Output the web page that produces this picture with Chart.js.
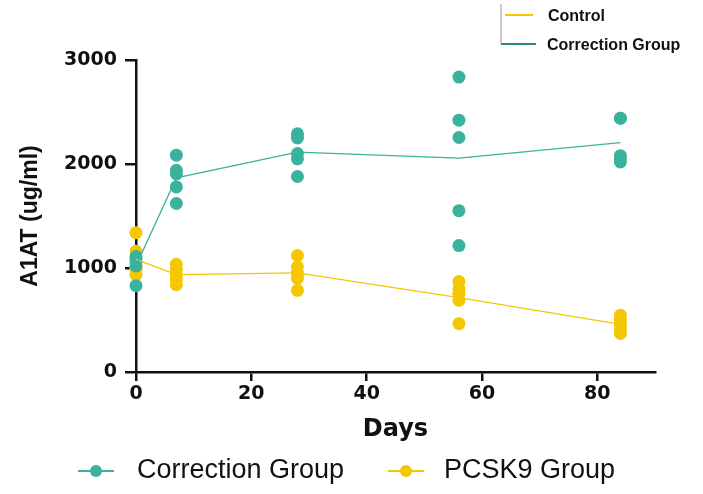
<!DOCTYPE html>
<html>
<head>
<meta charset="utf-8">
<script src="https://cdn.jsdelivr.net/npm/chart.js@4"></script>
<style>
html,body{margin:0;padding:0;background:#fff;}
#wrap{width:703px;height:494px;}
</style>
</head>
<body>
<div id="wrap"><canvas id="chart"></canvas></div>
<script>
// sampling days
const days = [0, 7, 28, 56, 84];

// individual values per day (ug/ml)
const correctionGroup = [
  [1110, 1090, 1060, 1020, 830],
  [2085, 1940, 1905, 1780, 1620],
  [2290, 2250, 2100, 2050, 1880],
  [2836, 2421, 2255, 1551, 1216],
  [2440, 2440, 2080, 2050, 2020]
];
const pcsk9Group = [
  [1340, 1160, 1000, 980, 935],
  [1035, 985, 935, 890, 840],
  [1120, 1010, 950, 900, 785],
  [870, 800, 750, 690, 465],
  [545, 505, 460, 410, 370]
];

const xTicks = [0, 20, 40, 60, 80];
const yTicks = [0, 1000, 2000, 3000];

const teal = '#3ab29d';
const yellow = '#f4c800';

function points(group){
  let out = [];
  group.forEach((vals, i) => vals.forEach(v => out.push({x: days[i], y: v})));
  return out;
}
function means(group){
  return group.map((vals, i) => ({x: days[i], y: vals.reduce((a,b)=>a+b,0) / vals.length}));
}

// bottom legend + small inset legend top right
const legendPlugin = {
  id: 'legends',
  afterDraw(chart){
    const ctx = chart.ctx;
    ctx.save();
    // bottom legend
    const items = [
      {c: teal, x: 78, tx: 137, label: 'Correction Group'},
      {c: yellow, x: 388, tx: 444, label: 'PCSK9 Group'}
    ];
    const ly = 471;
    items.forEach(it => {
      ctx.strokeStyle = it.c;
      ctx.lineWidth = 2;
      ctx.beginPath();
      ctx.moveTo(it.x, ly);
      ctx.lineTo(it.x + 36, ly);
      ctx.stroke();
      ctx.fillStyle = it.c;
      ctx.beginPath();
      ctx.arc(it.x + 18, ly, 6, 0, Math.PI * 2);
      ctx.fill();
      ctx.fillStyle = '#111';
      ctx.font = '27px "Liberation Sans", Arial, sans-serif';
      ctx.textBaseline = 'middle';
      ctx.textAlign = 'left';
      ctx.fillText(it.label, it.tx, ly);
    });

    // inset legend
    ctx.strokeStyle = '#999';
    ctx.lineWidth = 1;
    ctx.beginPath();
    ctx.moveTo(501, 4);
    ctx.lineTo(501, 44);
    ctx.stroke();
    ctx.strokeStyle = yellow;
    ctx.lineWidth = 2;
    ctx.beginPath();
    ctx.moveTo(505, 15);
    ctx.lineTo(533, 15);
    ctx.stroke();
    ctx.strokeStyle = '#2a8a7c';
    ctx.beginPath();
    ctx.moveTo(501, 44);
    ctx.lineTo(536, 44);
    ctx.stroke();
    ctx.fillStyle = '#111';
    ctx.font = 'bold 16px "Liberation Sans", Arial, sans-serif';
    ctx.textBaseline = 'middle';
    ctx.fillText('Control', 548, 17);
    ctx.fillText('Correction Group', 547, 46);
    ctx.restore();
  }
};

const tickFont = {family: '"DejaVu Sans", sans-serif', size: 19, weight: 'bold'};

new Chart(document.getElementById('chart'), {
  type: 'scatter',
  data: {
    datasets: [
      {
        label: 'Correction Group mean',
        data: means(correctionGroup),
        showLine: true,
        borderColor: teal,
        borderWidth: 1.3,
        pointRadius: 0,
        clip: false
      },
      {
        label: 'PCSK9 Group mean',
        data: means(pcsk9Group),
        showLine: true,
        borderColor: yellow,
        borderWidth: 1.3,
        pointRadius: 0,
        clip: false
      },
      {
        label: 'Correction Group',
        data: points(correctionGroup),
        backgroundColor: teal,
        borderColor: teal,
        borderWidth: 0,
        pointRadius: 6.5,
        clip: false
      },
      {
        label: 'PCSK9 Group',
        data: points(pcsk9Group),
        backgroundColor: yellow,
        borderColor: yellow,
        borderWidth: 0,
        pointRadius: 6.5,
        clip: false
      }
    ]
  },
  options: {
    responsive: true,
    maintainAspectRatio: false,
    animation: false,
    layout: {padding: {top: 60, left: 0, right: 48, bottom: 50}},
    plugins: {legend: {display: false}, tooltip: {enabled: false}},
    scales: {
      x: {
        type: 'linear',
        min: 0,
        max: 90,
        afterFit: s => { s.height = 72; },
        afterBuildTicks: s => { s.ticks = xTicks.map(v => ({value: v})); },
        ticks: {color: '#111', font: tickFont, padding: 2, includeBounds: false, callback: v => String(v)},
        grid: {drawOnChartArea: false, drawTicks: true, tickLength: 9, color: '#111', lineWidth: 2.5},
        border: {display: true, color: '#111', width: 2.5},
        title: {
          display: true,
          text: 'Days',
          color: '#111',
          font: {family: '"DejaVu Sans", sans-serif', size: 24, weight: 'bold'},
          padding: {top: 0, bottom: 0}
        }
      },
      y: {
        min: 0,
        max: 3000,
        afterFit: s => { s.width = 136; },
        afterBuildTicks: s => { s.ticks = yTicks.map(v => ({value: v})); },
        ticks: {color: '#111', font: tickFont, padding: 8, callback: v => String(v)},
        grid: {drawOnChartArea: false, drawTicks: true, tickLength: 11, color: '#111', lineWidth: 2.5},
        border: {display: true, color: '#111', width: 2.5},
        title: {
          display: true,
          text: 'A1AT (ug/ml)',
          color: '#111',
          font: {family: '"Liberation Sans", Arial, sans-serif', size: 23, weight: 'bold'},
          padding: {top: 17, bottom: 0}
        }
      }
    }
  },
  plugins: [legendPlugin]
});
</script>
</body>
</html>
